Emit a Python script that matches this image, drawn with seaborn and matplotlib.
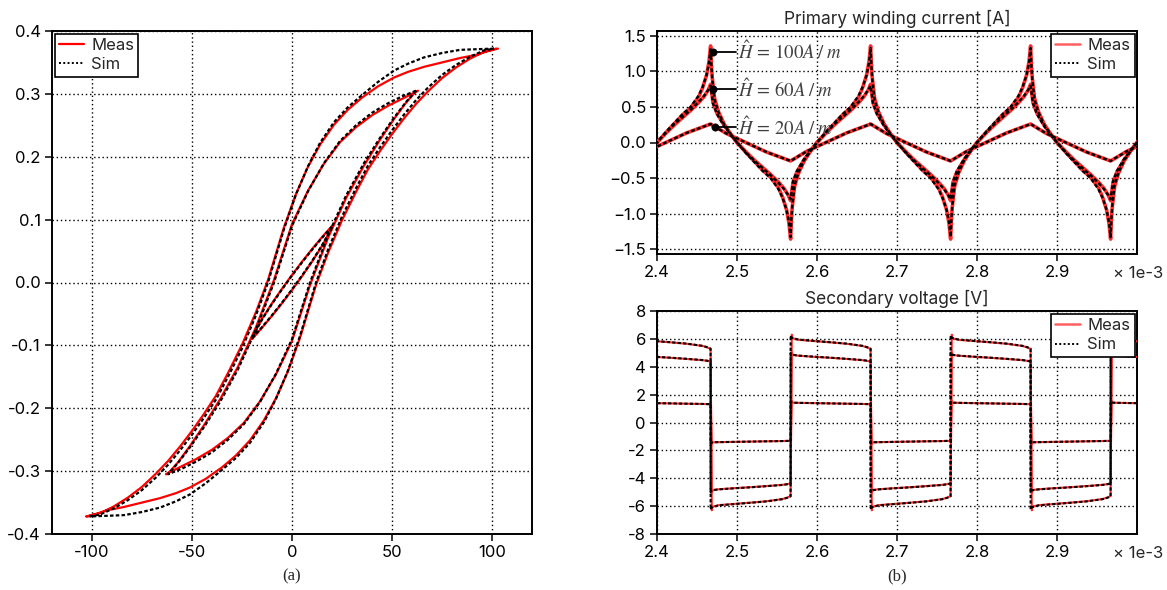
import matplotlib
matplotlib.use("Agg")
import numpy as np
import pandas as pd
import matplotlib.pyplot as plt
import seaborn as sns
from matplotlib.lines import Line2D
from matplotlib.ticker import FuncFormatter, MultipleLocator

sns.set_style("white")
plt.rcParams["font.family"] = ["Inter", "DejaVu Sans"]
plt.rcParams["mathtext.fontset"] = "stix"
plt.rcParams["axes.unicode_minus"] = False

# ---------------------------------------------------------------------------
# (a) B-H loops. Each list is the descending branch (positive tip -> negative
# tip); the ascending branch is its point reflection through the origin.
# ---------------------------------------------------------------------------
H100_sim = [101, 92, 84, 75, 66, 58, 51, 43, 35, 28, 21, 14, 8, 2, -4, -12, -18, -25, -32,
            -38, -44, -50, -56, -62, -68, -75, -82, -89, -96, -101]
B100_sim = [0.372, 0.371, 0.370, 0.365, 0.358, 0.348, 0.337, 0.319, 0.298, 0.279, 0.255,
            0.222, 0.185, 0.140, 0.085, 0.0, -0.052, -0.105, -0.150, -0.186, -0.215, -0.242,
            -0.267, -0.290, -0.310, -0.330, -0.346, -0.359, -0.369, -0.372]
H100_meas = [102, 92, 84, 75, 66, 58, 51, 43, 35, 28, 21, 14, 8, 2, -4, -12, -18, -25, -32,
             -38, -44, -50, -56, -62, -68, -75, -82, -89, -96, -103]
B100_meas = [0.372, 0.362, 0.357, 0.350, 0.343, 0.335, 0.326, 0.312, 0.294, 0.275, 0.251,
             0.219, 0.184, 0.141, 0.088, 0.004, -0.047, -0.099, -0.144, -0.180, -0.209,
             -0.236, -0.261, -0.284, -0.304, -0.325, -0.342, -0.356, -0.367, -0.372]

H60_sim = [62, 55, 48, 40, 32, 24, 16, 8, 0, -9, -18, -27, -36, -44, -51, -57, -62]
B60_sim = [0.305, 0.296, 0.285, 0.270, 0.250, 0.225, 0.190, 0.145, 0.090, 0.0, -0.075,
           -0.138, -0.190, -0.230, -0.262, -0.287, -0.305]
H60_meas = [63, 55, 48, 40, 32, 24, 16, 8, 0, -9, -18, -27, -36, -44, -51, -57, -62]
B60_meas = [0.305, 0.292, 0.281, 0.266, 0.247, 0.223, 0.189, 0.146, 0.093, 0.004, -0.071,
            -0.134, -0.186, -0.227, -0.260, -0.286, -0.304]

H20_sim = [20, 15, 10, 5, 0, -5, -10, -15, -20]
B20_sim = [0.089, 0.071, 0.052, 0.032, 0.011, -0.011, -0.034, -0.059, -0.088]
H20_meas = [20, 15, 10, 5, 0, -5, -10, -15, -20]
B20_meas = [0.090, 0.072, 0.053, 0.033, 0.012, -0.010, -0.033, -0.058, -0.087]

# ---------------------------------------------------------------------------
# (b) Waveforms, time in ms (axis is labelled x 1e-3 s). One half period is
# listed per amplitude; successive halves alternate in sign.
# ---------------------------------------------------------------------------
T_START = 2.367      # first switching instant before the visible window
HALF = 0.1           # half period
N_HALVES = 7

# primary current, rising half (trough -> peak)
tau_i100 = [0, 0.001, 0.002, 0.005, 0.01, 0.017, 0.025, 0.033, 0.045, 0.055, 0.065, 0.075,
            0.085, 0.09, 0.095, 0.098, 0.1]
i100_sim = [-1.33, -1.08, -0.90, -0.60, -0.42, -0.25, -0.12, 0.0, 0.16, 0.28, 0.40, 0.50,
            0.66, 0.78, 0.95, 1.12, 1.33]
i100_meas = [-1.36, -1.10, -0.92, -0.62, -0.43, -0.26, -0.12, 0.0, 0.15, 0.27, 0.39, 0.49,
             0.64, 0.77, 0.95, 1.14, 1.36]

tau_i60 = [0, 0.003, 0.008, 0.017, 0.025, 0.033, 0.045, 0.055, 0.065, 0.075, 0.085, 0.092,
           0.097, 0.1]
i60_sim = [-0.80, -0.55, -0.40, -0.23, -0.11, 0.0, 0.15, 0.26, 0.36, 0.46, 0.57, 0.66, 0.74, 0.80]
i60_meas = [-0.82, -0.56, -0.41, -0.24, -0.12, 0.0, 0.14, 0.25, 0.35, 0.45, 0.56, 0.65, 0.74, 0.82]

tau_i20 = [0, 0.02, 0.044, 0.07, 0.1]
i20_sim = [-0.26, -0.125, 0.0, 0.135, 0.26]
i20_meas = [-0.26, -0.125, 0.0, 0.135, 0.26]

# secondary voltage, positive half
tau_v = [0, 0.0005, 0.003, 0.01, 0.03, 0.05, 0.07, 0.09, 0.096, 0.1]
v100_sim = [6.25, 6.15, 6.05, 5.95, 5.85, 5.76, 5.66, 5.50, 5.40, 5.30]
v60_sim = [5.00, 4.92, 4.85, 4.80, 4.72, 4.65, 4.57, 4.48, 4.43, 4.38]
v20_sim = [1.50, 1.45, 1.42, 1.41, 1.39, 1.37, 1.35, 1.33, 1.32, 1.32]
tau_v_meas = [0.0015, 0.002, 0.004, 0.01, 0.03, 0.05, 0.07, 0.09, 0.096, 0.1]
v100_meas = [6.30, 6.10, 6.02, 5.93, 5.84, 5.75, 5.65, 5.49, 5.38, 5.28]
v60_meas = [5.05, 4.92, 4.84, 4.79, 4.71, 4.64, 4.56, 4.47, 4.42, 4.37]
v20_meas = [1.55, 1.45, 1.42, 1.41, 1.39, 1.37, 1.35, 1.33, 1.32, 1.32]

# peak markers with amplitude labels
H_amp = [100, 60, 20]
ann_t = [2.470, 2.470, 2.472]
ann_i = [1.28, 0.75, 0.215]
ann_t_text = 2.499

MEAS_RED = "#ff0000"
MEAS_RED_B = "#ff2a2a"


def closed_loop(h_desc, b_desc):
    h = list(h_desc) + [-v for v in h_desc]
    b = list(b_desc) + [-v for v in b_desc]
    return np.array(h, float), np.array(b, float)


def periodic(tau, vals):
    ts, vs = [], []
    for k in range(N_HALVES):
        s = 1 if k % 2 == 0 else -1
        ts.extend([T_START + k * HALF + t for t in tau])
        vs.extend([s * v for v in vals])
    return np.array(ts), np.array(vs)


fig = plt.figure(figsize=(11.67, 5.90), dpi=100)
ax_a = fig.add_axes([52 / 1167, 1 - 534 / 590, 480 / 1167, 503 / 590])
ax_i = fig.add_axes([657 / 1167, 1 - 254 / 590, 480 / 1167, 223 / 590])
ax_v = fig.add_axes([657 / 1167, 1 - 534 / 590, 480 / 1167, 223 / 590])

sim_dash = (0, (1.6, 1.0))


def draw(ax, x, y, kind, lw=None, light=False):
    if kind == "meas":
        sns.lineplot(x=x, y=y, ax=ax, sort=False, estimator=None,
                     color=MEAS_RED_B if light else MEAS_RED,
                     lw=lw or 1.5, zorder=3)
    else:
        sns.lineplot(x=x, y=y, ax=ax, sort=False, estimator=None,
                     color="black", lw=lw or 1.5, linestyle=sim_dash, zorder=4)


# (a) loops
for hm, bm, hs, bs in [(H100_meas, B100_meas, H100_sim, B100_sim),
                       (H60_meas, B60_meas, H60_sim, B60_sim),
                       (H20_meas, B20_meas, H20_sim, B20_sim)]:
    draw(ax_a, *closed_loop(hm, bm), "meas", lw=1.6)
    draw(ax_a, *closed_loop(hs, bs), "sim", lw=1.6)

ax_a.set_xlim(-120, 120)
ax_a.set_ylim(-0.4, 0.4)
ax_a.xaxis.set_major_locator(MultipleLocator(50))
ax_a.yaxis.set_major_locator(MultipleLocator(0.1))
ax_a.yaxis.set_major_formatter(FuncFormatter(lambda v, p: f"{v:.1f}"))

# (b) primary current
for tau, im, isim in [(tau_i100, i100_meas, i100_sim), (tau_i60, i60_meas, i60_sim),
                      (tau_i20, i20_meas, i20_sim)]:
    draw(ax_i, *periodic(tau, im), "meas", lw=2.6, light=True)
    draw(ax_i, *periodic(tau, isim), "sim", lw=1.7)

sns.scatterplot(x=ann_t, y=ann_i, ax=ax_i, color="black", s=28, zorder=6, edgecolor="black")
for t, i, h in zip(ann_t, ann_i, H_amp):
    ax_i.plot([t, ann_t_text], [i, i], color="black", lw=1.3, zorder=6)
    ax_i.text(ann_t_text + 0.002, i, rf"$\hat{{H}}\,=\,{h}A\;/\;m$", fontsize=13.5,
              color="#404040", va="center", ha="left", zorder=7)

ax_i.set_xlim(2.4, 3.0)
ax_i.set_ylim(-1.57, 1.57)
ax_i.yaxis.set_major_locator(MultipleLocator(0.5))
ax_i.yaxis.set_major_formatter(FuncFormatter(lambda v, p: f"{v:.1f}".replace("-", "\u2212")))
ax_i.set_title("Primary winding current [A]", fontsize=12.5, pad=5)

# (b) secondary voltage
for vm, vs in [(v100_meas, v100_sim), (v60_meas, v60_sim), (v20_meas, v20_sim)]:
    draw(ax_v, *periodic(tau_v_meas, vm), "meas", lw=1.5, light=True)
    draw(ax_v, *periodic(tau_v, vs), "sim", lw=1.5)

ax_v.set_xlim(2.4, 3.0)
ax_v.set_ylim(-8, 8)
ax_v.yaxis.set_major_locator(MultipleLocator(2))
ax_v.set_title("Secondary voltage [V]", fontsize=12.5, pad=5)

for ax in (ax_i, ax_v):
    ax.set_xticks([2.4, 2.5, 2.6, 2.7, 2.8, 2.9])
    ax.xaxis.set_major_formatter(FuncFormatter(lambda v, p: f"{v:.1f}"))

# shared styling
for ax in (ax_a, ax_i, ax_v):
    ax.set_xlabel("")
    ax.set_ylabel("")
    ax.set_axisbelow(True)
    ax.grid(True, color="black", linestyle=(0, (1, 2)), lw=1.0)
    for sp in ax.spines.values():
        sp.set_visible(True)
        sp.set_color("black")
        sp.set_linewidth(1.4)
    ax.tick_params(direction="out", length=5, width=1.1, labelsize=12, pad=3,
                   colors="black", left=True, bottom=True)

handles = [Line2D([], [], color=MEAS_RED, lw=1.6),
           Line2D([], [], color="black", lw=1.4, linestyle=(0, (1, 1.2)))]
handles_b = [Line2D([], [], color="#ff6060", lw=1.8),
             Line2D([], [], color="black", lw=1.4, linestyle=(0, (1, 1.2)))]
leg_kw = dict(frameon=True, fancybox=False, framealpha=1, edgecolor="black", fontsize=12,
              handlelength=1.5, handletextpad=0.45, labelspacing=0.28, borderpad=0.25,
              borderaxespad=0.15)
la = ax_a.legend(handles, ["Meas", "Sim"], loc="upper left", **leg_kw)
li = ax_i.legend(handles_b, ["Meas", "Sim"], loc="upper right", **leg_kw)
lv = ax_v.legend(handles_b, ["Meas", "Sim"], loc="upper right", **leg_kw)
for lg in (la, li, lv):
    lg.get_frame().set_linewidth(1.2)

# axis multiplier labels and panel captions
for ypix in (274, 554):
    fig.text(1163 / 1167, 1 - ypix / 590, "\u00d7 1e-3", ha="right", va="center", fontsize=12)
fig.text(292 / 1167, 1 - 576 / 590, "(a)", ha="center", va="center", fontsize=12,
         family="Liberation Serif")
fig.text(897 / 1167, 1 - 576 / 590, "(b)", ha="center", va="center", fontsize=12,
         family="Liberation Serif")

fig.savefig("out.png", dpi=100)
